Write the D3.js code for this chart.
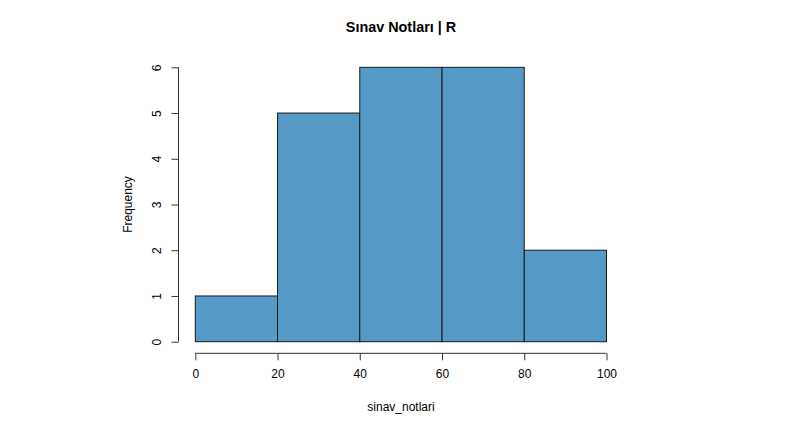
<!DOCTYPE html>
<html>
<head>
<meta charset="utf-8">
<script src="https://cdn.jsdelivr.net/npm/d3@7"></script>
<style>
  html, body { margin: 0; padding: 0; background: #fff; }
  svg text { font-family: "Liberation Sans", Arial, sans-serif; fill: #000; }
</style>
</head>
<body>
<svg id="chart" width="795" height="434"></svg>
<script>
// Histogram data: bin edges and counts
const binStarts = [0, 20, 40, 60, 80];
const binEnds = [20, 40, 60, 80, 100];
const counts = [1, 5, 6, 6, 2];
const xTicks = [0, 20, 40, 60, 80, 100];
const yTicks = [0, 1, 2, 3, 4, 5, 6];

const svg = d3.select("#chart");
const BAR_FILL = "#5599c7";

const x = d3.scaleLinear().domain([0, 100]).range([195.3, 606.5]);
const y = d3.scaleLinear().domain([0, 6]).range([341.7, 67.3]);

//Bars
svg.append("g")
  .selectAll("rect")
  .data(counts)
  .join("rect")
  .attr("x", (d, i) => x(binStarts[i]))
  .attr("y", d => y(d))
  .attr("width", (d, i) => x(binEnds[i]) - x(binStarts[i]))
  .attr("height", d => y(0) - y(d))
  .attr("fill", BAR_FILL)
  .attr("stroke", "#1a1a1a")
  .attr("stroke-width", 1);

//X axis (R style, detached below the plot)
const xAxis = d3.axisBottom(x).tickValues(xTicks).tickSize(7).tickPadding(9).tickSizeOuter(0);
const gx = svg.append("g")
  .attr("transform", "translate(0,353.3)")
  .call(xAxis);
gx.select(".domain").attr("stroke", "#333").attr("d", `M${x(0)},0H${x(100)}`);
gx.selectAll(".tick line").attr("stroke", "#333");
gx.selectAll(".tick text").attr("font-size", 12).attr("fill", "#000")
  .attr("font-family", "Liberation Sans, Arial, sans-serif");

//Y axis with rotated labels
const yAxis = d3.axisLeft(y).tickValues(yTicks).tickSize(7).tickSizeOuter(0).tickFormat(d3.format("d"));
const gy = svg.append("g")
  .attr("transform", "translate(178.5,0)")
  .call(yAxis);
gy.select(".domain").attr("stroke", "#333").attr("d", `M0,${y(0)}V${y(6)}`);
gy.selectAll(".tick line").attr("stroke", "#333");
gy.selectAll(".tick text")
  .attr("font-size", 12)
  .attr("font-family", "Liberation Sans, Arial, sans-serif")
  .attr("fill", "#000")
  .attr("x", null).attr("dy", null)
  .attr("text-anchor", "middle")
  .attr("dominant-baseline", "central")
  .attr("transform", "translate(-22,0) rotate(-90)");

//Title and axis labels
svg.append("text")
  .attr("x", 401)
  .attr("y", 27)
  .attr("text-anchor", "middle")
  .attr("dominant-baseline", "central")
  .attr("font-size", 14.4)
  .attr("font-weight", "bold")
  .text("Sınav Notları | R");

svg.append("text")
  .attr("x", 401)
  .attr("y", 407)
  .attr("text-anchor", "middle")
  .attr("dominant-baseline", "central")
  .attr("font-size", 12)
  .text("sinav_notlari");

svg.append("text")
  .attr("transform", "translate(128.3,204.5) rotate(-90)")
  .attr("text-anchor", "middle")
  .attr("dominant-baseline", "central")
  .attr("font-size", 12)
  .text("Frequency");
</script>
</body>
</html>
